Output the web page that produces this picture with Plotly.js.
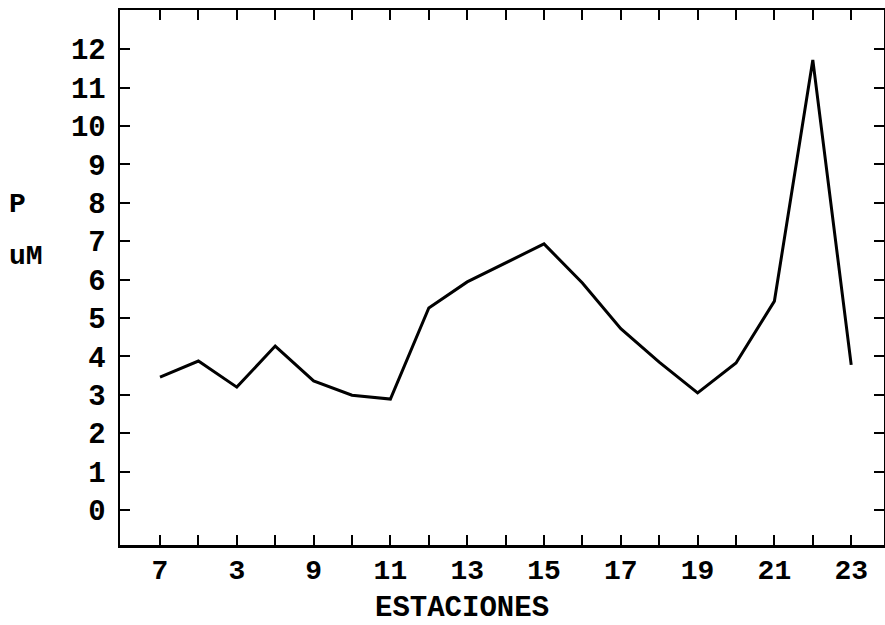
<!DOCTYPE html>
<html>
<head>
<meta charset="utf-8">
<script src="https://cdn.plot.ly/plotly-3.0.1.min.js"></script>
<style>html,body{margin:0;padding:0;background:#fff;}#chart{width:885px;height:625px;}</style>
</head>
<body>
<div id="chart"></div>
<script>
// Stations (plot positions) and phosphate values (uM)
var estaciones = [5, 6, 7, 8, 9, 10, 11, 12, 13, 14, 15, 16, 17, 18, 19, 20, 21, 22, 23];
var fosfato = [3.46, 3.88, 3.20, 4.27, 3.36, 2.99, 2.89, 5.26, 5.94, 6.43, 6.93, 5.91, 4.72, 3.85, 3.05, 3.83, 5.44, 11.72, 3.78];
// Tick labels as printed in the original figure
var xTickLabels = ["7", "", "3", "", "9", "", "11", "", "13", "", "15", "", "17", "", "19", "", "21", "", "23"];
var yTickVals = [0, 1, 2, 3, 4, 5, 6, 7, 8, 9, 10, 11, 12];

var mono = "Liberation Mono, Courier New, monospace";

var trace = {
  x: estaciones,
  y: fosfato,
  mode: "lines",
  type: "scatter",
  line: {color: "#000", width: 3},
  hoverinfo: "skip"
};

var layout = {
  width: 885,
  height: 625,
  margin: {l: 120, r: 1, t: 10, b: 80},
  paper_bgcolor: "#fff",
  plot_bgcolor: "#fff",
  showlegend: false,
  xaxis: {
    range: [3.958, 23.854],
    tickmode: "array",
    tickvals: estaciones,
    ticktext: xTickLabels,
    ticks: "inside",
    ticklen: 10,
    tickwidth: 2,
    tickcolor: "#000",
    showline: true,
    linewidth: 2.5,
    linecolor: "#000",
    mirror: "allticks",
    showgrid: false,
    zeroline: false,
    ticklabelstandoff: -2,
    tickfont: {family: mono, size: 28, color: "#000", weight: "bold"}
  },
  yaxis: {
    range: [-0.911, 13.02],
    tickmode: "array",
    tickvals: yTickVals,
    ticktext: yTickVals.map(String),
    ticks: "inside",
    ticklen: 10,
    tickwidth: 2,
    tickcolor: "#000",
    showline: true,
    linewidth: 2.5,
    linecolor: "#000",
    mirror: "allticks",
    showgrid: false,
    zeroline: false,
    ticklabelstandoff: 6,
    tickfont: {family: mono, size: 29, color: "#000", weight: "bold"}
  },
  annotations: [
    {text: "ESTACIONES", xref: "paper", yref: "paper", x: (462 - 120) / 764, y: (545 - 608) / 535, xanchor: "center", yanchor: "middle", showarrow: false,
     font: {family: mono, size: 29, color: "#000", weight: "bold"}},
    {text: "P", xref: "paper", yref: "paper", x: -0.1348, y: 0.637, xanchor: "center", yanchor: "middle", showarrow: false,
     font: {family: mono, size: 28, color: "#000", weight: "bold"}},
    {text: "uM", xref: "paper", yref: "paper", x: -0.123, y: 0.540, xanchor: "center", yanchor: "middle", showarrow: false,
     font: {family: mono, size: 28, color: "#000", weight: "bold"}}
  ]
};

Plotly.newPlot("chart", [trace], layout, {displayModeBar: false, staticPlot: true});
</script>
</body>
</html>
